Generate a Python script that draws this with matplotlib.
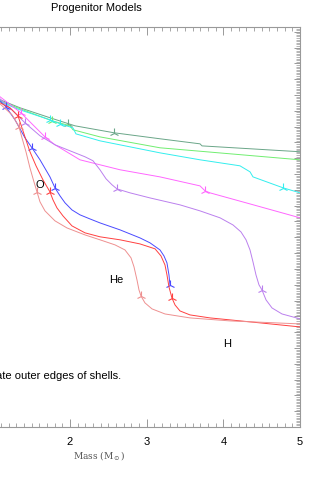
import numpy as np
import matplotlib
matplotlib.use('Agg')
import matplotlib.pyplot as plt
from matplotlib.ticker import MultipleLocator

plt.rcParams['font.family'] = ['Liberation Sans', 'DejaVu Sans']

# --- curves: mass coordinate and (arbitrary) profile value ---
gg_m = [1.087, 1.348, 1.739, 2.065, 2.574, 3.174, 3.696, 3.722, 5.0]
gg_y = [20.70, 20.19, 19.56, 19.05, 18.61, 18.23, 17.91, 17.78, 17.41]
gg_mk_m = [1.974, 2.574]
gg_mk_y = [19.18, 18.61]

gr_m = [1.087, 1.348, 1.765, 2.0, 2.039, 2.391, 3.174, 5.0]
gr_y = [20.63, 20.13, 19.37, 19.05, 18.80, 18.35, 17.66, 16.90]
gr_mk_m = [1.765]
gr_mk_y = [19.37]

cy_m = [1.087, 1.348, 1.739, 1.870, 2.039, 2.078, 2.391, 3.174, 3.696, 4.217, 4.348, 4.387, 4.778, 5.0]
cy_y = [20.57, 20.06, 19.43, 19.18, 18.92, 18.54, 18.10, 17.34, 16.90, 16.52, 16.14, 15.82, 15.13, 14.81]
cy_mk_m = [1.739, 1.870, 4.778]
cy_mk_y = [19.43, 19.18, 15.13]

mg_m = [1.087, 1.361, 1.478, 1.674, 1.804, 1.870, 2.130, 2.652, 3.174, 3.696, 3.761, 3.826, 4.348, 5.0]
mg_y = [20.89, 19.87, 19.30, 18.35, 17.85, 17.66, 16.90, 16.27, 15.82, 15.25, 14.94, 14.81, 14.11, 13.23]
mg_mk_m = [1.361, 1.674, 3.761]
mg_mk_y = [19.87, 18.35, 14.94]

pu_m = [1.087, 1.243, 1.413, 1.609, 1.804, 2.0, 2.196, 2.300, 2.391, 2.470, 2.548, 2.613,
        2.783, 3.043, 3.435, 3.696, 3.957, 4.126, 4.230, 4.296, 4.348, 4.387, 4.426,
        4.465, 4.504, 4.557, 4.635, 4.765, 5.0]
pu_y = [20.76, 20.06, 19.24, 18.42, 17.85, 17.47, 17.09, 16.84, 16.27, 15.70, 15.32, 15.06,
        14.81, 14.49, 14.05, 13.67, 13.23, 12.78, 12.34, 11.84, 11.20, 10.44, 9.62,
        8.99, 8.67, 8.04, 7.53, 7.15, 6.84]
pu_mk_m = [1.413, 2.613, 4.504]
pu_mk_y = [19.24, 15.06, 8.67]

bl_m = [1.087, 1.165, 1.283, 1.413, 1.504, 1.609, 1.739, 1.804, 1.870, 1.935, 2.026,
        2.130, 2.261, 2.391, 2.652, 2.913, 3.043, 3.174, 3.226, 3.265, 3.291, 3.304]
bl_y = [20.63, 20.25, 19.43, 18.29, 17.66, 16.90, 15.82, 15.13, 14.62, 14.18, 13.73,
        13.42, 13.16, 12.91, 12.47, 11.96, 11.65, 11.20, 10.82, 10.38, 9.62, 8.99]
bl_mk_m = [1.165, 1.504, 1.804, 3.304]
bl_mk_y = [20.25, 17.66, 15.13, 8.99]

rd_m = [1.087, 1.217, 1.322, 1.361, 1.413, 1.478, 1.557, 1.648, 1.739, 1.778, 1.830,
        1.909, 2.026, 2.196, 2.391, 2.652, 2.913, 3.109, 3.187, 3.239, 3.265, 3.291,
        3.330, 3.370, 3.435, 3.565, 3.826, 4.348, 5.0]
rd_y = [20.51, 20.19, 19.68, 19.11, 18.35, 17.41, 16.52, 15.63, 14.87, 14.37, 13.86,
        13.35, 12.72, 12.28, 12.03, 11.84, 11.58, 11.27, 10.82, 10.25, 9.62, 8.86,
        8.16, 7.72, 7.34, 7.09, 6.90, 6.65, 6.33]
rd_mk_m = [1.322, 1.739, 3.330]
rd_mk_y = [19.68, 14.87, 8.16]

lr_m = [1.087, 1.243, 1.335, 1.374, 1.426, 1.478, 1.530, 1.570, 1.609, 1.674, 1.804,
        1.961, 2.196, 2.391, 2.587, 2.717, 2.796, 2.835, 2.874, 2.900, 2.926, 2.978,
        3.070, 3.239, 3.565, 4.087, 5.0]
lr_y = [20.44, 19.75, 18.99, 18.29, 17.41, 16.39, 15.51, 14.87, 14.24, 13.67, 13.04,
        12.59, 12.15, 11.84, 11.52, 11.20, 10.70, 10.13, 9.30, 8.67, 8.29, 7.85,
        7.47, 7.15, 6.90, 6.71, 6.52]
lr_mk_m = [1.335, 1.570, 2.926]
lr_mk_y = [18.99, 14.87, 8.29]

curves = [
    (gg_m, gg_y, gg_mk_m, gg_mk_y, '#6aa688'),
    (gr_m, gr_y, gr_mk_m, gr_mk_y, '#70ee70'),
    (cy_m, cy_y, cy_mk_m, cy_mk_y, '#33eeee'),
    (mg_m, mg_y, mg_mk_m, mg_mk_y, '#ff66ff'),
    (pu_m, pu_y, pu_mk_m, pu_mk_y, '#bb80ee'),
    (bl_m, bl_y, bl_mk_m, bl_mk_y, '#4a4aff'),
    (rd_m, rd_y, rd_mk_m, rd_mk_y, '#ff4040'),
    (lr_m, lr_y, lr_mk_m, lr_mk_y, '#ee9090'),
]

fig = plt.figure(figsize=(3.25, 4.79), dpi=100)
# axes run past the left edge of the figure (picture is cropped)
ax = fig.add_axes([-6.7/325, 1 - 427/479., 306.7/325, 400/479.])

for m, y, mkm, mky, c in curves:
    ax.plot(m, y, '-', color=c, lw=0.7)
    ax.plot(mkm, mky, '2', color=c, ms=7, mew=0.8)

ax.set_xlim(1, 5)
ax.set_ylim(0, 25.3)
ax.set_xticks([1, 2, 3, 4, 5], ['', '2', '3', '4', '5'])
ax.xaxis.set_minor_locator(MultipleLocator(0.1))
ax.yaxis.set_major_locator(MultipleLocator(1))
ax.yaxis.set_minor_locator(MultipleLocator(0.1))
ax.tick_params(axis='x', which='both', direction='in', top=True, bottom=True,
               colors='#999999', labelcolor='black', labelsize=8, pad=7)
ax.tick_params(axis='x', which='major', length=5.8, width=0.7)
ax.tick_params(axis='x', which='minor', length=3, width=0.6)
ax.tick_params(axis='y', which='both', direction='in', left=True, right=True,
               labelleft=False, colors='#999999')
ax.tick_params(axis='y', which='major', length=4.3, width=0.7)
ax.tick_params(axis='y', which='minor', length=2.8, width=0.5)
for s in ax.spines.values():
    s.set_color('#999999')
    s.set_linewidth(0.8)

ax.text(1.609, 15.32, 'O', fontsize=8, ha='center', va='center')
ax.text(2.60, 9.30, 'He', fontsize=8, ha='center', va='center')
ax.text(4.048, 5.25, 'H', fontsize=8, ha='center', va='center')
ax.text(2.665, 3.23, 'Symbols indicate outer edges of shells.', fontsize=8,
        ha='right', va='center')

fig.text(96/325, 1 - 8/479., 'Progenitor Models', fontsize=8, ha='center', va='center')
fig.text(99/325, 1 - 456/479., r'Mass (M$_\odot$)', fontsize=6.5, ha='center',
         va='center', color='#555555', family='DejaVu Serif')

fig.savefig('out.png', dpi=100)
